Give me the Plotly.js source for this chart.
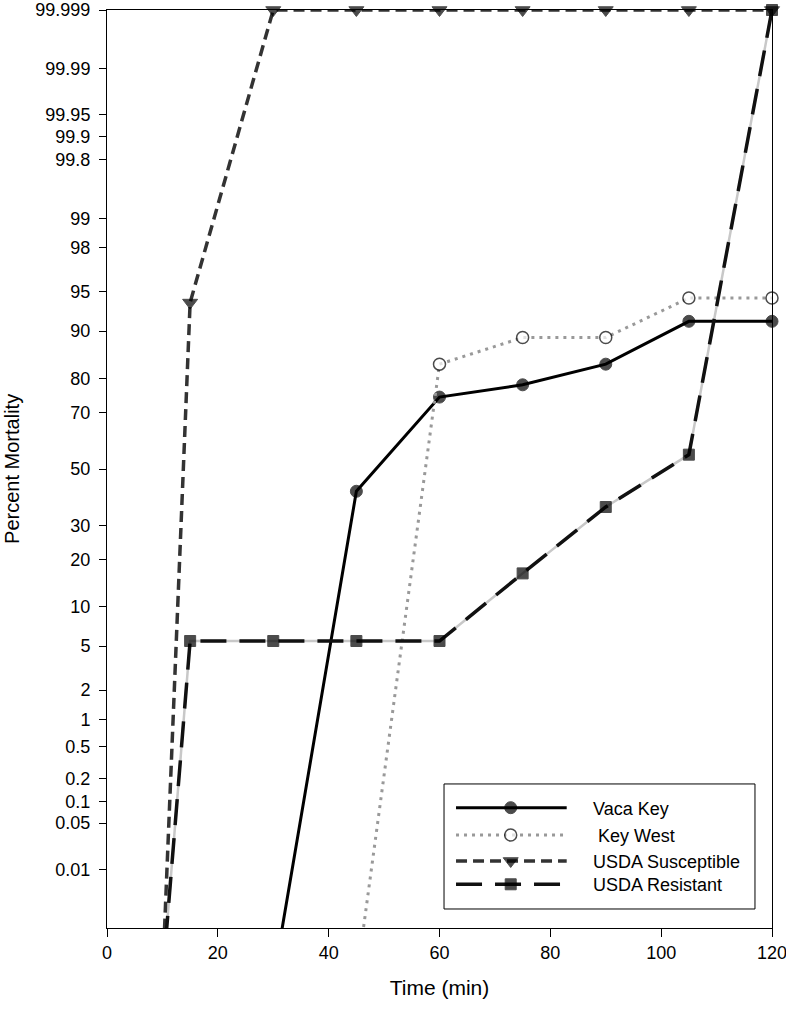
<!DOCTYPE html>
<html>
<head>
<meta charset="utf-8">
<script src="https://cdn.plot.ly/plotly-3.0.1.min.js"></script>
<style>
  body { margin: 0; background: #fff; }
  #myPlot { width: 786px; height: 1009px; }
</style>
</head>
<body>
<div id="myPlot"></div>
<script>
// data (percent mortality)
var time = [10, 15, 30, 45, 60, 75, 90, 105, 120];
var vacaKey = [0, 0, 0, 41.8, 74.8, 78.3, 83.5, 91.5, 91.5];
var keyWest = [0, 0, 0, 0, 83.5, 88.9, 88.9, 94.4, 94.4];
var usdaSusceptible = [0, 93.9, 100, 100, 100, 100, 100, 100, 100];
var usdaResistant = [0, 5.5, 5.5, 5.5, 5.5, 16.6, 36.2, 55.3, 100];

var seriesNames = ['Vaca Key', ' Key West', 'USDA Susceptible', 'USDA Resistant'];
var yTickLabels = ['0.01', '0.05', '0.1', '0.2', '0.5', '1', '2', '5', '10', '20', '30', '50',
    '70', '80', '90', '95', '98', '99', '99.8', '99.9', '99.95', '99.99', '99.999'];
var xTicks = [0, 20, 40, 60, 80, 100, 120];

// inverse normal cdf (Acklam) -> probability scale
function probit(p){
    var a = [-3.969683028665376e+01, 2.209460984245205e+02, -2.759285104469687e+02, 1.383577518672690e+02, -3.066479806614716e+01, 2.506628277459239e+00];
    var b = [-5.447609879822406e+01, 1.615858368580409e+02, -1.556989798598866e+02, 6.680131188771972e+01, -1.328068155288572e+01];
    var c = [-7.784894002430293e-03, -3.223964580411365e-01, -2.400758277161838e+00, -2.549732539343734e+00, 4.374664141464968e+00, 2.938163982698783e+00];
    var d = [7.784695709041462e-03, 3.224671290700398e-01, 2.445134137142996e+00, 3.754408661907416e+00];
    var plow = 0.02425, q, r;
    if(p < plow){
        q = Math.sqrt(-2*Math.log(p));
        return (((((c[0]*q+c[1])*q+c[2])*q+c[3])*q+c[4])*q+c[5]) / ((((d[0]*q+d[1])*q+d[2])*q+d[3])*q+1);
    }
    if(p > 1 - plow){
        q = Math.sqrt(-2*Math.log(1-p));
        return -(((((c[0]*q+c[1])*q+c[2])*q+c[3])*q+c[4])*q+c[5]) / ((((d[0]*q+d[1])*q+d[2])*q+d[3])*q+1);
    }
    q = p - 0.5;
    r = q*q;
    return (((((a[0]*r+a[1])*r+a[2])*r+a[3])*r+a[4])*r+a[5])*q / (((((b[0]*r+b[1])*r+b[2])*r+b[3])*r+b[4])*r+1);
}
// 0 and 100 % can't go on a probit scale, clamp them like the plotting program does
function toProbit(arr){
    return arr.map(function(v){
        var p = v/100;
        if(p <= 0) p = 1e-6;
        if(p >= 1) p = 0.99999;
        return probit(p);
    });
}
function markSizes(arr, s){
    return arr.map(function(v){ return v <= 0 ? 0 : s; });
}

var fontFam = '"Liberation Sans", Arial, Helvetica, sans-serif';

// styles per series
var styles = [
    {line: {color: '#000', width: 3},
     marker: {symbol: 'circle', color: '#000', size: 12, line: {color: '#000', width: 1}}},
    {line: {color: '#999', width: 3, dash: '3px,5px'},
     marker: {symbol: 'circle', color: '#fff', size: 12, line: {color: '#000', width: 1.5}}},
    {line: {color: '#333', width: 3.5, dash: '11px,6px'},
     marker: {symbol: 'triangle-down', color: '#000', size: 13, line: {color: '#000', width: 1}}},
    {line: {color: '#111', width: 3.5, dash: '26px,13px'},
     marker: {symbol: 'square', color: '#000', size: 11, line: {color: '#000', width: 1}}}
];
var series = [vacaKey, keyWest, usdaSusceptible, usdaResistant];

var data = [{
    // light grey under the resistant dashes, as in the original print
    x: time, y: toProbit(usdaResistant),
    mode: 'lines', showlegend: false, hoverinfo: 'skip',
    line: {color: '#c8c8c8', width: 2.5}
}];
series.forEach(function(vals, i){
    var st = styles[i];
    var mk = Object.assign({}, st.marker, {size: markSizes(vals, st.marker.size)});
    data.push({
        x: time, y: toProbit(vals), name: seriesNames[i],
        mode: 'lines+markers', cliponaxis: false, showlegend: false,
        line: st.line, marker: mk
    });
});

// hand-made legend box (sample line is much longer than plotly's own)
var legRows = [23.7, 51, 77, 100.3];
var annotations = [{
    text: 'Percent Mortality', xref: 'paper', yref: 'paper',
    x: -0.143, y: 0.5, xanchor: 'center', yanchor: 'middle',
    textangle: -90, showarrow: false, font: {size: 20}
}];
series.forEach(function(vals, i){
    var st = styles[i];
    data.push({
        x: [12, 66.7, 122.7], y: [legRows[i], legRows[i], legRows[i]],
        xaxis: 'x2', yaxis: 'y2', mode: 'lines+markers', showlegend: false,
        hoverinfo: 'skip', cliponaxis: false,
        line: st.line,
        marker: Object.assign({}, st.marker, {size: [0, st.marker.size, 0]})
    });
    annotations.push({
        text: seriesNames[i], xref: 'x2', yref: 'y2', x: 147, y: legRows[i] + 1,
        xanchor: 'left', yanchor: 'middle', showarrow: false, font: {size: 18}
    });
});

var legBox = [0.5068, 0.9744, 0.0207, 0.1569];

var layout = {
    width: 786, height: 1009,
    margin: {l: 107, r: 14, t: 10, b: 81},
    paper_bgcolor: '#fff', plot_bgcolor: '#fff',
    font: {family: fontFam, size: 18, color: '#000'},
    showlegend: false,
    xaxis: {
        range: [0, 120], tickvals: xTicks,
        ticks: 'outside', ticklen: 8, tickwidth: 1, tickcolor: '#000',
        showline: true, linecolor: '#000', linewidth: 1, mirror: true,
        showgrid: false, zeroline: false, ticklabeloverflow: 'allow',
        tickfont: {size: 18},
        title: {text: 'Time (min)', font: {size: 21}, standoff: 18}
    },
    yaxis: {
        range: [probit(0.00001), probit(0.99999)],
        tickvals: yTickLabels.map(function(t){ return probit(parseFloat(t)/100); }),
        ticktext: yTickLabels,
        ticks: 'outside', ticklen: 7, tickwidth: 1, tickcolor: '#000',
        ticklabelstandoff: 5, ticklabeloverflow: 'allow',
        showline: true, linecolor: '#000', linewidth: 1, mirror: true,
        showgrid: false, zeroline: false,
        tickfont: {size: 18}
    },
    xaxis2: {domain: [legBox[0], legBox[1]], anchor: 'y2', range: [0, 311], visible: false, fixedrange: true},
    yaxis2: {domain: [legBox[2], legBox[3]], anchor: 'x2', range: [125, 0], visible: false, fixedrange: true},
    shapes: [{
        type: 'rect', xref: 'paper', yref: 'paper',
        x0: legBox[0], x1: legBox[1], y0: legBox[2], y1: legBox[3],
        line: {color: '#000', width: 1}, fillcolor: 'rgba(0,0,0,0)', layer: 'above'
    }],
    annotations: annotations
};

Plotly.newPlot('myPlot', data, layout, {displayModeBar: false, staticPlot: true});
</script>
</body>
</html>
